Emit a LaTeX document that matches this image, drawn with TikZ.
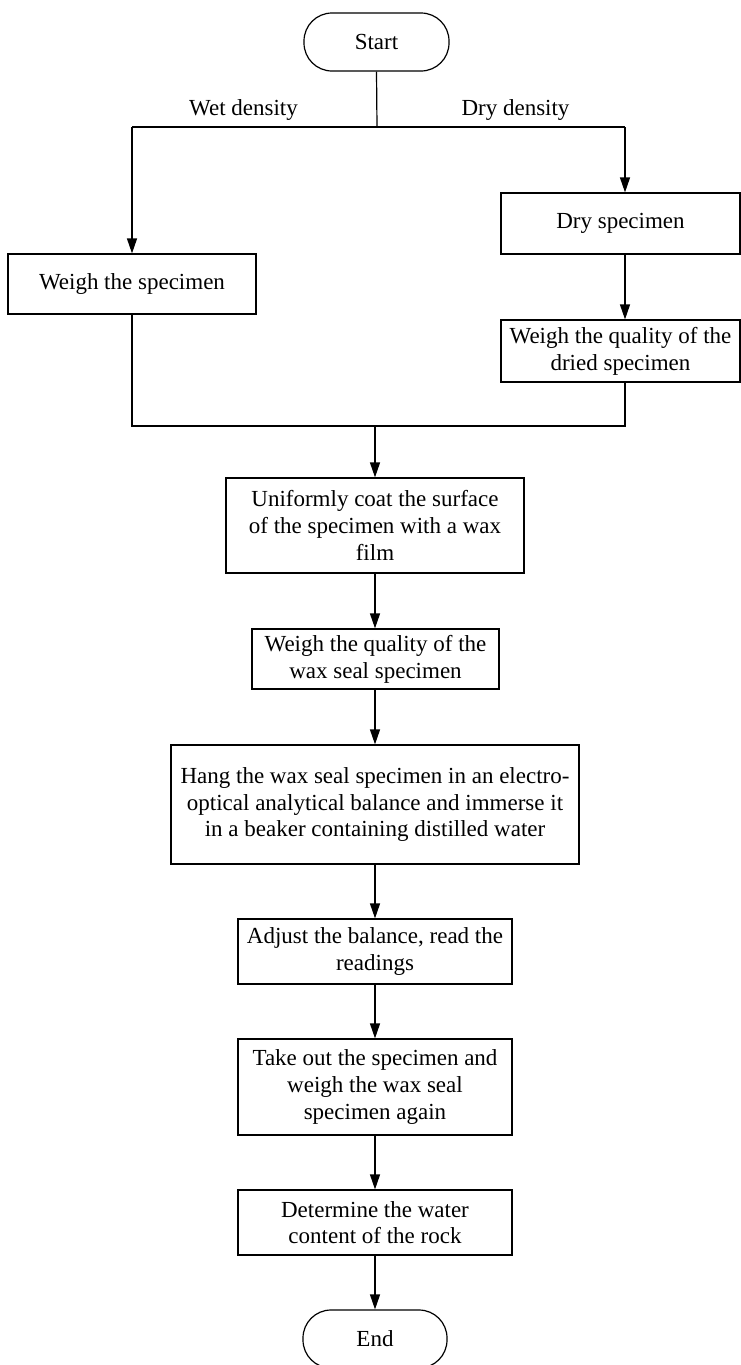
\documentclass[tikz,border=0pt]{standalone}
\usepackage{fontspec}
\setmainfont{Liberation Serif}
\usetikzlibrary{arrows.meta}
\begin{document}
\begin{tikzpicture}[x=1pt,y=-1pt,
  every node/.style={font=\fontsize{23}{26.7}\selectfont, inner sep=0pt},
  stepbox/.style={draw, line width=1.2pt, align=center},
  terminal/.style={draw, line width=1.2pt, rounded corners=28pt},
  flow/.style={line width=1.2pt},
  arrow/.style={flow, -{Triangle[length=15pt,width=10pt]}},
  lbl/.style={anchor=base}]
\useasboundingbox (0,0) rectangle (741,1365);

% terminals
\node[terminal, minimum width=145pt, minimum height=58pt] (start) at (376.5,42) {Start};
\node[terminal, minimum width=144pt, minimum height=58pt] (end) at (375,1339) {End};

% branch steps
\node[stepbox, minimum width=248pt, minimum height=60pt] (weigh) at (132,284) {Weigh the specimen};
\node[stepbox, minimum width=239pt, minimum height=61pt] (dry) at (620.5,223.5) {Dry specimen};
\node[stepbox, minimum width=239pt, minimum height=62pt] (dried) at (620.5,351) {Weigh the quality of the\\dried specimen};

% main column
\node[stepbox, minimum width=298pt, minimum height=95pt] (coat) at (375,525.5) {Uniformly coat the surface\\of the specimen with a wax\\film};
\node[stepbox, minimum width=247pt, minimum height=60pt] (wax) at (375.5,659) {Weigh the quality of the\\wax seal specimen};
\node[stepbox, minimum width=408pt, minimum height=119pt] (hang) at (375,804.5) {Hang the wax seal specimen in an electro-\\optical analytical balance and immerse it\\in a beaker containing distilled water};
\node[stepbox, minimum width=274pt, minimum height=65pt] (adjust) at (375,951.5) {Adjust the balance, read the\\readings};
\node[stepbox, minimum width=274pt, minimum height=96pt] (take) at (375,1087) {Take out the specimen and\\weigh the wax seal\\specimen again};
\node[stepbox, minimum width=274pt, minimum height=65pt] (det) at (375,1222.5) {Determine the water\\content of the rock};

% split and merge points
\coordinate (split) at (377,127);
\coordinate (splitL) at (132,127);
\coordinate (splitR) at (625,127);
\coordinate (mergeL) at (132,426);
\coordinate (mergeR) at (625,426);
\coordinate (merge) at (375,426);

% branch labels
\node[lbl] (wetlbl) at (243.5,115) {Wet density};
\node[lbl] (drylbl) at (515.5,115) {Dry density};

% connectors
\draw[flow] (start.south) -- (split);
\draw[flow] (splitL) -- (splitR);
\draw[arrow] (splitL) -- (weigh.north);
\draw[arrow] (splitR) -- (splitR |- dry.north);
\draw[arrow] (splitR |- dry.south) -- (splitR |- dried.north);
\draw[flow] (weigh.south) -- (mergeL) -- (mergeR) -- (mergeR |- dried.south);
\draw[arrow] (merge) -- (coat.north);
\draw[arrow] (coat.south) -- (coat.south |- wax.north);
\draw[arrow] (coat.south |- wax.south) -- (hang.north);
\draw[arrow] (hang.south) -- (adjust.north);
\draw[arrow] (adjust.south) -- (take.north);
\draw[arrow] (take.south) -- (det.north);
\draw[arrow] (det.south) -- (end.north);
\end{tikzpicture}
\end{document}
